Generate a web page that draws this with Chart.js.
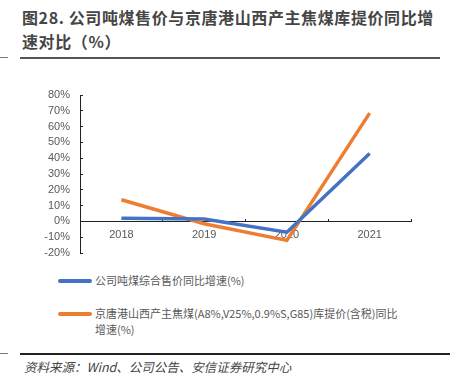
<!DOCTYPE html>
<html>
<head>
<meta charset="utf-8">
<script src="https://cdn.jsdelivr.net/npm/chart.js@4.4.0/dist/chart.umd.min.js"></script>
<style>
  body { margin: 0; background: #fff; width: 450px; height: 382px; overflow: hidden; position: relative;
         font-family: "Liberation Sans", "Noto Sans CJK SC", sans-serif; }
  #title { position: absolute; left: 22px; top: 5px; width: 420px; font-size: 16px; font-weight: bold;
           color: #454545; line-height: 24px; letter-spacing: 0.6px; font-family: "Noto Sans CJK SC", sans-serif; }
  .rule { position: absolute; }
  #rule1 { left: 20px; top: 57px; width: 420px; height: 2px; background: #555; }
  #rule0 { left: 0; top: 57px; width: 8px; height: 1px; background: #777; }
  #wrap { position: absolute; left: 0; top: 80px; width: 450px; height: 190px; }
  #legend { position: absolute; left: 58px; top: 272px; width: 348px; font-size: 11px; color: #595959;
            font-family: "Noto Sans CJK SC", sans-serif; }
  .item { position: relative; padding-left: 37px; line-height: 16px; margin-bottom: 17px; }
  .sw { position: absolute; left: 0; top: 7px; width: 34px; height: 3.5px; border-radius: 2px; }
  #rule2 { left: 20px; top: 353px; width: 430px; height: 2px; background: #222; }
  #rule3 { left: 0; top: 353px; width: 8px; height: 1px; background: #777; }
  #source { position: absolute; left: 24px; top: 357px; font-size: 12.5px; font-style: italic; color: #444;
            font-family: "Noto Sans CJK SC", sans-serif; }
</style>
</head>
<body>
<div id="title">图28. 公司吨煤售价与京唐港山西产主焦煤库提价同比增速对比（%）</div>
<div id="rule0" class="rule"></div>
<div id="rule1" class="rule"></div>
<div id="wrap"><canvas id="chart1"></canvas></div>
<div id="legend"></div>
<div id="rule3" class="rule"></div>
<div id="rule2" class="rule"></div>
<div id="source">资料来源：Wind、公司公告、安信证券研究中心</div>
<script>
var years = ['2018', '2019', '2020', '2021'];
var priceName = '公司吨煤综合售价同比增速(%)';
var priceGrowth = [2.0, 1.5, -6.8, 43.0];
var cokingName = '京唐港山西产主焦煤(A8%,V25%,0.9%S,G85)库提价(含税)同比增速(%)';
var cokingGrowth = [13.7, -1.5, -12.0, 68.5];
var colors = ['#4472C4', '#ED7D31'];

var series = [
  { label: priceName, data: priceGrowth, color: colors[0] },
  { label: cokingName, data: cokingGrowth, color: colors[1] }
];

// legend in html so the long label can wrap like the original
var legend = document.getElementById('legend');
series.forEach(function(s) {
  var d = document.createElement('div');
  d.className = 'item';
  d.innerHTML = '<span class="sw" style="background:' + s.color + '"></span>' + s.label;
  legend.appendChild(d);
});

var tickFont = { family: 'Liberation Sans', size: 11 };

var ctx = document.getElementById('chart1').getContext('2d');
var myChart = new Chart(ctx, {
  type: 'line',
  data: {
    labels: years,
    datasets: series.map(function(s) {
      return {
        label: s.label,
        data: s.data,
        borderColor: s.color,
        backgroundColor: s.color,
        borderWidth: 3.5,
        pointRadius: 0,
        tension: 0,
        fill: false
      };
    })
  },
  options: {
    animation: false,
    responsive: true,
    maintainAspectRatio: false,
    layout: { padding: { left: 0, right: 39, top: 15, bottom: 17 } },
    plugins: { legend: { display: false }, tooltip: { enabled: false } },
    scales: {
      x: {
        position: { y: 0 },   // axis crosses at 0%
        offset: true,
        afterFit: function(scale) { scale.height = 0; scale.paddingLeft = 0; scale.paddingRight = 0; },
        grid: { offset: true, drawOnChartArea: false, tickLength: -3, tickColor: '#222', lineWidth: 1 },
        border: { display: true, color: '#222', width: 1 },
        ticks: { color: '#595959', font: tickFont, padding: 10, maxRotation: 0 }
      },
      y: {
        min: -20,
        max: 80,
        afterFit: function(scale) { scale.width = 80; scale.paddingTop = 0; scale.paddingBottom = 0; },
        grid: { drawOnChartArea: false, tickLength: -3, tickColor: '#222', lineWidth: 1 },
        border: { display: true, color: '#222', width: 1 },
        ticks: {
          stepSize: 10,
          autoSkip: false,
          color: '#595959',
          font: tickFont,
          padding: 13,
          callback: function(v) { return v + '%'; }
        }
      }
    }
  }
});
</script>
</body>
</html>
